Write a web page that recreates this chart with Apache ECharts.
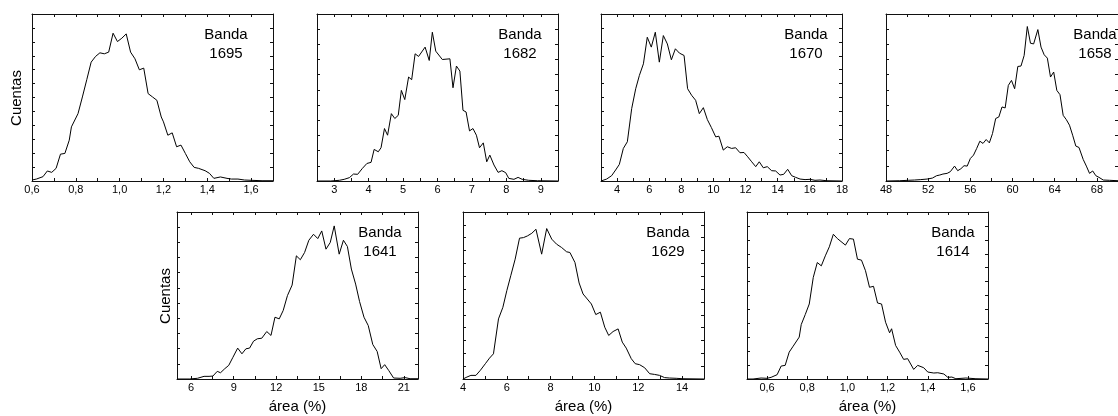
<!DOCTYPE html>
<html>
<head>
<meta charset="utf-8">
<script src="https://cdn.jsdelivr.net/npm/echarts@6/dist/echarts.min.js"></script>
<style>
  body { margin: 0; background: #fff; }
  #chart { width: 1118px; height: 416px; }
</style>
</head>
<body>
<div id="chart"></div>
<script type="text/javascript">
// bandas
var bands = ['1695', '1682', '1670', '1658', '1641', '1629', '1614'];

// area (%) / cuentas de cada histograma
var area1695 = [0.60,0.62,0.65,0.67,0.69,0.71,0.73,0.75,0.77,0.78,0.81,0.83,0.85,0.87,0.89,0.91,0.93,0.95,0.97,0.99,1.01,1.03,1.05,1.07,1.09,1.11,1.13,1.15,1.17,1.19,1.20,1.22,1.24,1.26,1.28,1.30,1.32,1.34,1.36,1.39,1.41,1.43,1.46,1.49,1.51,1.54,1.57,1.60,1.65,1.70];
var cnt1695  = [0.7,1.4,3.1,7.2,6.2,9.1,19.3,19.8,29.3,38.9,48.4,60.4,72.8,85.4,89.5,92.1,91.4,92.6,106.2,100.2,102.6,105.7,92.6,87.8,79.9,81.1,62.8,60.4,58.0,46.0,42.5,32.9,34.6,24.6,25.8,19.8,13.8,9.8,9.1,7.4,5.5,1.9,2.9,1.9,1.4,1.4,0.7,0.5,0.2,0.2];

var area1682 = [2.50,2.90,3.15,3.29,3.44,3.56,3.68,3.82,3.95,4.07,4.16,4.28,4.36,4.46,4.55,4.66,4.76,4.86,4.95,5.05,5.16,5.25,5.35,5.45,5.64,5.76,5.85,5.95,6.14,6.36,6.45,6.55,6.65,6.74,6.83,6.93,7.03,7.13,7.22,7.33,7.43,7.52,7.64,7.76,7.87,7.98,8.07,8.22,8.34,8.46,8.65,8.90,9.50];
var cnt1682  = [0,0,0.5,1.2,2.4,5.0,4.8,9.1,12.6,13.4,22.7,21.0,23.9,37.7,32.9,48.4,44.9,47.2,65.1,58.5,74.7,72.8,91.4,89.5,96.2,86.6,106.9,93.3,87.3,87.8,67.0,82.6,79.0,50.8,49.6,36.0,37.7,32.9,23.9,27.4,13.8,18.6,11.5,6.2,7.4,6.0,1.9,1.2,2.6,1.2,0.5,0.2,0];

var area1670 = [3.00,3.35,3.66,3.91,4.14,4.39,4.64,4.91,5.16,5.39,5.64,5.88,6.13,6.38,6.63,6.88,7.13,7.38,7.63,7.88,8.17,8.39,8.64,8.89,9.12,9.37,9.62,9.87,10.14,10.34,10.61,10.86,11.13,11.38,11.65,11.90,12.13,12.38,12.63,12.85,13.10,13.35,13.62,13.87,14.14,14.37,14.62,14.87,15.12,15.39,15.70,16.01,16.32,16.63,17.05,18.00];
var cnt1670  = [0,1.4,3.8,7.9,11.9,23.4,28.2,52.0,66.3,75.9,84.2,103.3,96.2,106.9,85.4,104.5,98.5,87.1,95.0,91.9,90.2,66.3,61.6,58.0,48.4,52.7,44.1,38.4,31.7,32.2,22.2,24.6,23.4,23.9,20.3,20.5,17.4,13.8,10.3,13.8,9.5,10.3,7.4,7.2,4.3,4.8,8.4,3.8,2.6,1.4,1.0,1.2,0.5,0.7,0.2,0];

var area1658 = [48.0,49.3,50.1,50.7,51.3,51.9,52.4,52.8,53.1,53.4,53.8,54.1,54.5,54.8,55.1,55.4,55.7,56.0,56.3,56.6,56.9,57.2,57.5,57.8,58.1,58.4,58.7,59.0,59.3,59.6,59.9,60.2,60.5,60.8,61.1,61.4,61.7,62.0,62.4,62.7,63.0,63.3,63.6,63.9,64.2,64.5,64.8,65.1,65.4,65.7,66.0,66.3,66.7,67.0,67.3,67.6,67.9,68.2,68.6,69.2,70.0];
var cnt1658  = [0,0.2,0.5,0.7,1.0,1.4,2.1,3.8,4.3,5.0,5.5,6.7,10.7,7.4,8.8,11.0,10.7,16.2,18.6,23.4,28.6,27.0,29.8,27.4,34.1,44.9,46.0,53.2,52.5,68.7,72.3,66.3,82.3,82.6,90.2,111.0,99.0,98.5,108.8,96.2,90.7,88.3,74.7,78.3,65.1,62.0,47.2,44.1,40.1,32.9,25.1,24.1,15.5,10.7,5.5,7.2,3.8,2.6,0.7,0.5,0.2];

var area1641 = [5.00,5.86,6.44,6.91,7.26,7.53,7.84,8.07,8.37,8.65,8.93,9.28,9.58,9.86,10.12,10.40,10.67,10.98,11.33,11.63,11.91,12.21,12.49,12.79,13.12,13.42,13.70,14.00,14.30,14.63,14.93,15.21,15.51,15.81,16.09,16.44,16.74,17.02,17.30,17.60,17.88,18.19,18.49,18.81,19.12,19.40,19.65,19.93,20.28,20.74,21.09,21.44,21.86,22.00];
var cnt1641  = [0,0,0.5,1.9,1.9,2.1,5.5,4.5,7.4,9.8,15.3,22.2,18.1,21.7,22.2,27.2,28.9,29.3,34.1,31.3,44.4,43.2,49.2,59.9,67.5,88.5,85.7,90.9,99.7,104.0,100.9,106.4,93.3,98.1,110.0,89.7,99.7,95.2,79.0,68.2,55.6,44.4,38.4,24.8,19.8,7.4,10.3,6.2,0.7,0.5,1.0,0.2,0.2,0.2];

var area1629 = [4.00,4.18,4.36,4.59,4.79,5.02,5.21,5.39,5.62,5.82,6.00,6.18,6.38,6.58,6.76,6.94,7.14,7.33,7.59,7.82,8.05,8.27,8.50,8.73,8.88,9.11,9.30,9.48,9.67,9.86,10.06,10.27,10.47,10.65,10.85,11.08,11.27,11.45,11.68,11.86,12.06,12.29,12.52,12.74,12.97,13.20,13.42,13.73,14.03,15.00];
var cnt1629  = [0,1.4,2.6,2.6,6.2,11.0,15.0,18.1,43.2,51.5,63.5,74.2,86.1,101.2,101.6,102.8,104.7,107.6,89.7,108.1,100.5,96.9,94.5,91.4,90.9,83.7,69.0,61.1,57.5,53.9,46.3,48.0,37.2,31.3,34.1,36.0,26.5,22.2,14.6,11.0,10.3,8.1,3.8,3.3,2.6,1.0,0.7,0.5,0.2,0];

var area1614 = [0.50,0.53,0.57,0.60,0.62,0.65,0.67,0.69,0.71,0.73,0.76,0.77,0.79,0.81,0.83,0.85,0.87,0.89,0.91,0.93,0.95,0.99,1.01,1.03,1.05,1.07,1.09,1.11,1.13,1.15,1.17,1.19,1.21,1.22,1.24,1.26,1.28,1.30,1.33,1.35,1.38,1.40,1.43,1.45,1.48,1.50,1.52,1.54,1.59,1.64,1.70];
var cnt1614  = [0,0,0.7,0.5,1.2,3.1,9.3,9.8,19.3,23.6,30.1,39.1,46.3,53.9,73.0,83.7,81.3,88.5,95.0,104.0,100.9,96.2,100.9,100.5,86.1,85.4,77.8,65.9,66.6,54.6,53.9,40.8,33.2,36.1,24.1,19.3,14.1,14.6,6.9,9.8,8.1,5.0,4.3,4.5,3.6,1.2,1.4,0.2,0.7,0.2,0];

// rangos y marcas del eje x
var xMin = [0.6, 2.5, 3, 48, 5, 4, 0.5];
var xMax = [1.7, 9.5, 18, 70, 22, 15, 1.7];
var xLabels = [
  [0.6, 0.8, 1.0, 1.2, 1.4, 1.6],
  [3, 4, 5, 6, 7, 8, 9],
  [4, 6, 8, 10, 12, 14, 16, 18],
  [48, 52, 56, 60, 64, 68],
  [6, 9, 12, 15, 18, 21],
  [4, 6, 8, 10, 12, 14],
  [0.6, 0.8, 1.0, 1.2, 1.4, 1.6]
];
var xTicks = [
  [0.6, 0.7, 0.8, 0.9, 1.0, 1.1, 1.2, 1.3, 1.4, 1.5, 1.6],
  [3, 3.5, 4, 4.5, 5, 5.5, 6, 6.5, 7, 7.5, 8, 8.5, 9],
  [4, 5, 6, 7, 8, 9, 10, 11, 12, 13, 14, 15, 16, 17],
  [48, 50, 52, 54, 56, 58, 60, 62, 64, 66, 68],
  [6, 7.5, 9, 10.5, 12, 13.5, 15, 16.5, 18, 19.5, 21],
  [5, 6, 7, 8, 9, 10, 11, 12, 13, 14],
  [0.6, 0.7, 0.8, 0.9, 1.0, 1.1, 1.2, 1.3, 1.4, 1.5, 1.6]
];
var decimals = [1, 0, 0, 0, 0, 0, 1];
var yDivs = [12, 11, 12, 11, 11, 13, 12];

var areas = [area1695, area1682, area1670, area1658, area1641, area1629, area1614];
var cnts  = [cnt1695, cnt1682, cnt1670, cnt1658, cnt1641, cnt1629, cnt1614];

// posicion de los paneles
var layout = [
  {left: 32,  top: 14,  bx: 226,  by: 44},
  {left: 317, top: 14,  bx: 520,  by: 44},
  {left: 601, top: 14,  bx: 806,  by: 44},
  {left: 886, top: 14,  bx: 1095, by: 44},
  {left: 177, top: 212, bx: 380,  by: 242},
  {left: 463, top: 212, bx: 668,  by: 242},
  {left: 747, top: 212, bx: 953,  by: 242}
];
var W = 241, H = 167;
var FONT = '"Liberation Sans", Arial, sans-serif';

var myChart = echarts.init(document.getElementById('chart'));

var grids = [], xAxes = [], yAxes = [], series = [], graphics = [];
var lineCol = '#111';

layout.forEach(function (p, i) {
  grids.push({left: p.left, top: p.top, width: W, height: H});
  var fmt = function (v) {
    return decimals[i] ? v.toFixed(1).replace('.', ',') : String(v);
  };
  ['bottom', 'top'].forEach(function (pos) {
    xAxes.push({
      gridIndex: i, type: 'value', position: pos,
      min: xMin[i], max: xMax[i],
      axisLine: {show: true, onZero: false, lineStyle: {color: lineCol, width: 1}},
      axisTick: {show: true, inside: true, length: 3, customValues: xTicks[i], lineStyle: {color: lineCol}},
      axisLabel: {
        show: pos === 'bottom', customValues: xLabels[i], formatter: fmt,
        fontSize: 11, color: '#000', margin: 3, fontFamily: FONT
      },
      splitLine: {show: false}
    });
  });
  ['left', 'right'].forEach(function (pos) {
    yAxes.push({
      gridIndex: i, type: 'value', position: pos,
      min: 0, max: 120, interval: 120 / yDivs[i],
      axisLine: {show: true, onZero: false, lineStyle: {color: lineCol, width: 1}},
      axisTick: {show: true, inside: true, length: 3, lineStyle: {color: lineCol}},
      axisLabel: {show: false},
      splitLine: {show: false}
    });
  });
  var pts = areas[i].map(function (a, k) { return [a, cnts[i][k]]; });
  series.push({
    type: 'line', xAxisIndex: 2 * i, yAxisIndex: 2 * i,
    data: pts, showSymbol: false, symbol: 'none',
    lineStyle: {color: '#000', width: 1}
  });
  graphics.push({
    type: 'text', x: p.bx, y: p.by,
    style: {text: 'Banda\n' + bands[i], align: 'center', verticalAlign: 'middle',
            font: '15px ' + FONT, fill: '#000', lineHeight: 19}
  });
  if (i >= 4) {
    graphics.push({
      type: 'text', x: p.left + W / 2, y: 407,
      style: {text: 'área (%)', align: 'center', verticalAlign: 'middle', font: '15px ' + FONT, fill: '#000'}
    });
  }
});

// etiquetas Cuentas
[[17, 98], [166, 296]].forEach(function (c) {
  graphics.push({
    type: 'text', x: c[0], y: c[1], rotation: Math.PI / 2,
    style: {text: 'Cuentas', align: 'center', verticalAlign: 'middle', font: '15px ' + FONT, fill: '#000'}
  });
});

var option = {
  animation: false,
  backgroundColor: '#fff',
  grid: grids,
  xAxis: xAxes,
  yAxis: yAxes,
  series: series,
  graphic: graphics
};
myChart.setOption(option);
</script>
</body>
</html>
